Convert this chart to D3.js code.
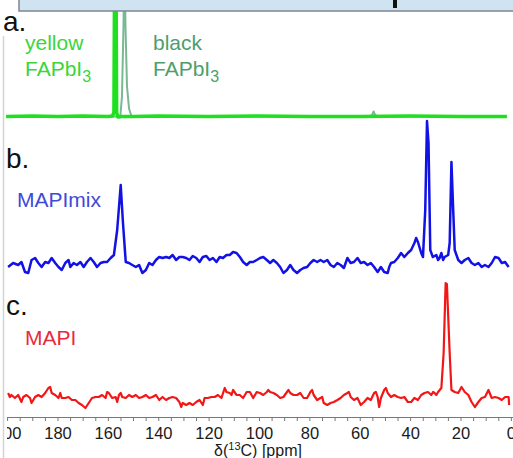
<!DOCTYPE html>
<html>
<head>
<meta charset="utf-8">
<script src="https://cdn.jsdelivr.net/npm/d3@7"></script>
<style>
  html, body { margin: 0; padding: 0; background: #fff; }
  svg { display: block; }
</style>
</head>
<body>
<script>
// chemical shift axis
const ppmTicks = d3.range(200, -1, -5);
const ppmLabels = [200, 180, 160, 140, 120, 100, 80, 60, 40, 20, 0];

// a. yellow FAPbI3 (bright green) and black FAPbI3 (grey green)
const yellowPpm = [200.4, 190, 180, 170, 160, 158.2, 157.6, 157.3, 156.8, 156.5, 156, 155, 150, 140, 120, 100, 80, 60, 40, 20, 1.6];
const yellowInt = [0, 0.5, 0, 0.5, 0, 0.5, 4, 160, 160, 4, -0.5, 0, 0, 0.5, 0, 0.5, 0, 0, 0.5, 0, 0];
const blackPpm = [200.4, 160, 156, 155.1, 154.4, 153.8, 153.4, 153.0, 152.4, 151.6, 150.6, 120, 58, 56, 55, 54.5, 54, 53, 50, 1.6];
const blackInt = [0, 0, 0, -1, 20, 90, 160, 90, 30, 8, 0, 0, 0, 0, 2, 5, 2, 0, 0, 0];

// b. MAPImix
const mixPpm = [199.6, 197.6, 195.6, 194.3, 192.9, 191.6, 190.3, 188.9, 187.6, 186.3, 184.9, 183.6, 182.3, 180.9, 179.6, 178.3, 176.9, 175.6, 174.9, 173.6,
  172.3, 170.9, 169.6, 168.3, 166.9, 165.6, 164.3, 162.9, 161.6, 160.3, 158.9, 157.6, 156.3, 154.9, 154.0, 152.9, 151.6, 150.3, 148.9, 147.6,
  146.3, 144.9, 143.6, 142.3, 140.9, 139.6, 138.3, 136.9, 135.6, 134.3, 132.9, 131.6, 130.3, 128.9, 127.6, 126.3, 124.9, 123.6, 122.3, 120.9,
  119.6, 118.3, 116.9, 115.6, 114.3, 112.9, 111.6, 110.3, 108.9, 107.6, 106.3, 104.9, 103.6, 102.3, 100.9, 99.6, 98.3, 96.9, 95.6, 94.3,
  92.9, 91.6, 90.3, 88.9, 87.6, 86.3, 84.9, 83.6, 82.3, 80.9, 79.6, 78.3, 76.9, 75.6, 74.3, 72.9, 71.6, 70.3, 68.9, 67.6,
  66.3, 64.9, 63.6, 62.3, 60.9, 59.6, 58.3, 56.9, 55.6, 54.3, 52.9, 51.6, 50.3, 48.9, 48.3, 47.6, 46.3, 44.9, 43.6, 42.3,
  40.9, 39.6, 38.3, 37.6, 36.9, 35.6, 34.9, 34.0, 33.3, 32.7, 32.0, 31.0, 29.6, 28.9, 28.3, 27.6, 26.9, 26.3, 24.9, 24.3,
  23.6, 22.9, 22.3, 20.9, 19.6, 18.3, 16.9, 15.6, 14.3, 12.9, 11.6, 10.3, 8.9, 7.6, 6.3, 4.9, 3.6, 2.3, 0.9];
const mixInt = [-4, 0, -2, 1, -9, -10, 3, 5, 0, -4, 1, 0, 5, 0, -4, -7, 0, 3, -4, 0,
  -2, 1, -4, 1, 5, 1, -4, 0, 1, 1, 5, 8, 33, 78, 40, 1, 0, -2, -4, -2,
  -10, -7, 0, -2, 3, 6, 5, 6, 5, 8, 3, 6, 6, 5, 3, 7, 5, 1, 6, 7,
  3, 5, 1, 6, 5, 8, 8, 11, 10, 6, 1, -2, 1, 1, 3, 5, 6, 3, 0, 3,
  0, -4, -10, -7, -2, -7, -10, -7, -5, -4, 0, 3, 1, 3, 1, 3, -2, -4, 0, -2,
  -5, 5, 0, 1, 5, 0, 1, -2, 0, -4, -9, -4, -9, -10, -4, 0, 1, 5, 10, 6,
  10, 13, 20, 25, 21, 10, 6, 53, 142, 120, 13, 6, 8, 3, 5, 10, 3, 6, 8, 20,
  101, 53, 13, 3, 0, 3, 5, 0, -2, 0, -4, -2, -4, 0, 6, 5, 0, 1, -4];

// c. MAPI
const mapiPpm = [199.6, 198.9, 198.3, 196.9, 195.6, 194.3, 193.6, 192.3, 190.9, 190.3, 188.9, 187.6, 186.3, 184.9, 183.6, 182.9, 182.3, 180.9, 179.6, 178.9,
  178.3, 176.9, 175.6, 174.3, 172.9, 171.6, 170.3, 168.9, 167.6, 166.3, 164.9, 163.6, 162.3, 160.9, 160.3, 159.6, 158.3, 156.9, 156.3, 155.6,
  154.9, 154.3, 152.9, 151.6, 150.3, 148.9, 147.6, 146.3, 144.9, 143.6, 142.3, 140.9, 139.6, 138.3, 136.9, 135.6, 134.3, 132.9, 131.6, 130.9,
  130.3, 128.9, 127.6, 126.3, 124.9, 123.6, 122.3, 121.6, 120.3, 118.9, 117.6, 116.3, 114.9, 113.6, 112.9, 111.6, 110.9, 110.3, 108.9, 107.6,
  106.3, 104.9, 103.6, 102.3, 100.9, 99.6, 98.3, 96.9, 96.3, 95.6, 94.3, 92.9, 91.6, 90.3, 88.9, 88.3, 87.6, 86.3, 84.9, 83.6,
  82.3, 80.9, 79.6, 78.9, 78.3, 76.9, 75.6, 74.9, 74.3, 72.9, 71.6, 70.3, 68.9, 67.6, 66.3, 64.9, 64.3, 63.6, 62.3, 60.9,
  59.6, 58.3, 56.9, 55.6, 54.3, 53.6, 52.9, 52.3, 51.6, 50.3, 49.6, 48.9, 47.6, 46.3, 44.9, 43.6, 42.3, 40.9, 39.6, 38.3,
  36.9, 35.6, 34.3, 32.9, 31.6, 30.9, 30.3, 29.6, 28.9, 27.6, 26.7, 25.9, 25.4, 24.3, 23.6, 22.3, 20.9, 19.6, 18.3, 16.9,
  15.6, 14.3, 12.9, 11.6, 10.3, 8.9, 7.6, 6.3, 4.9, 3.6, 2.3, 0.9, 0.7];
const mapiInt = [3, -1, 1, -2, 1, -6, -1, 1, -2, -7, -1, 1, -1, 3, 8, 9, 3, 1, -2, 3,
  -2, -2, -1, -4, -4, -7, -9, -12, -7, -2, -1, -1, 1, -2, 4, 3, -2, -1, -6, 1,
  3, -1, -2, 1, -1, 1, -2, -1, 1, -2, -1, 1, -4, -1, -4, -2, -1, -2, -6, -11,
  -7, -9, -7, -9, -6, -4, -9, -2, -2, -1, -1, 1, -2, 8, 4, 3, 1, 6, 1, 1,
  -2, 4, 4, -2, 4, 3, 1, 4, 6, 4, 3, 1, -2, -1, 4, 6, 3, 1, 1, 3,
  -2, -2, 4, 6, 1, -4, -2, -1, -7, -9, -7, -6, -4, -2, 1, 3, 4, -1, -4, -2,
  -9, -6, -2, -4, 3, 4, -1, -11, -2, 6, 8, 3, -1, 1, -1, -2, -1, -6, -6, -2,
  -4, 1, 3, 4, 1, 4, 3, 1, 4, 8, 43, 113, 112, 43, 6, 4, 3, 9, 4, 1,
  -6, -11, -6, -2, -1, 6, -2, -1, -2, -4, -1, -1, -9];

const width = 513, height = 458;

const svg = d3.select("body").append("svg")
    .attr("width", width)
    .attr("height", height)
    .attr("viewBox", "0 0 " + width + " " + height)
    .style("font-family", "'Liberation Sans', Arial, sans-serif");

const x = d3.scaleLinear().domain([200.4, -0.8]).range([6.1, 512.9]);

function panelScale(base) {
    return d3.scaleLinear().domain([0, 100]).range([base, base - 100]);
}
const yA = panelScale(116.5), yB = panelScale(263), yC = panelScale(396);

function zip(a, b) {
    return a.map((v, i) => [v, b[i]]);
}

function drawTrace(data, y, color, w) {
    svg.append("path")
        .datum(data)
        .attr("fill", "none")
        .attr("stroke", color)
        .attr("stroke-width", w)
        .attr("stroke-linejoin", "round")
        .attr("d", d3.line().x(d => x(d[0])).y(d => y(d[1])));
}

// faint frame line on the left
svg.append("line")
    .attr("x1", 3.5).attr("x2", 3.5)
    .attr("y1", 36).attr("y2", height)
    .attr("stroke", "#d4d4d4").attr("stroke-width", 1.5);

drawTrace(zip(blackPpm, blackInt), yA, "#7ab894", 2);
drawTrace(zip(yellowPpm, yellowInt), yA, "#1ee01e", 3.5);
drawTrace(zip(mixPpm, mixInt), yB, "#1212e6", 2.5);
drawTrace(zip(mapiPpm, mapiInt), yC, "#f21616", 2.2);

// cropped header box at the top
svg.append("rect")
    .attr("x", 19).attr("y", -3)
    .attr("width", 500).attr("height", 14)
    .attr("fill", "#cfe3f1")
    .attr("stroke", "#7d8790").attr("stroke-width", 1.5);
svg.append("rect")
    .attr("x", 393).attr("y", 0)
    .attr("width", 4).attr("height", 8)
    .attr("fill", "#111");

// panel letters
[["a.", 3, 31], ["b.", 6, 168], ["c.", 6, 315]].forEach(([t, px, py]) => {
    svg.append("text").attr("x", px).attr("y", py)
        .attr("font-size", 28).attr("fill", "#111").text(t);
});

// sample names
function label(lines, px, py, color) {
    lines.forEach((ln, i) => {
        const t = svg.append("text")
            .attr("x", px).attr("y", py + i * 26)
            .attr("font-size", 21).attr("fill", color);
        t.append("tspan").text(ln[0]);
        if (ln[1]) {
            t.append("tspan").attr("font-size", 16).attr("dy", 6).text(ln[1]);
        }
    });
}
label([["yellow"], ["FAPbI", "3"]], 25, 50, "#3ad63a");
label([["black"], ["FAPbI", "3"]], 153, 50, "#4e9e6c");
label([["MAPImix"]], 17, 207, "#3f4ad8");
label([["MAPI"]], 25, 345, "#e82a3c");

// x axis
svg.append("clipPath").attr("id", "axclip")
    .append("rect").attr("x", 7).attr("y", 0).attr("width", width).attr("height", height);

const axis = svg.append("g")
    .attr("transform", "translate(0,417)")
    .attr("clip-path", "url(#axclip)")
    .call(d3.axisBottom(x)
        .tickValues(ppmTicks)
        .tickSize(4)
        .tickSizeOuter(0)
        .tickPadding(6)
        .tickFormat(d => ppmLabels.includes(d) ? d : ""));
axis.select(".domain").attr("stroke", "#777").attr("stroke-width", 1.2);
axis.selectAll(".tick line").attr("stroke", "#777");
axis.selectAll(".tick text")
    .attr("font-size", 16.5)
    .attr("font-family", "'Liberation Sans', Arial, sans-serif")
    .attr("fill", "#1a1a1a");

const title = svg.append("text")
    .attr("x", 258).attr("y", 456)
    .attr("text-anchor", "middle")
    .attr("font-size", 16)
    .attr("fill", "#1a1a1a");
title.append("tspan").text("δ(");
title.append("tspan").attr("font-size", 11).attr("dy", -6).text("13");
title.append("tspan").attr("dy", 6).text("C) [ppm]");
</script>
</body>
</html>
